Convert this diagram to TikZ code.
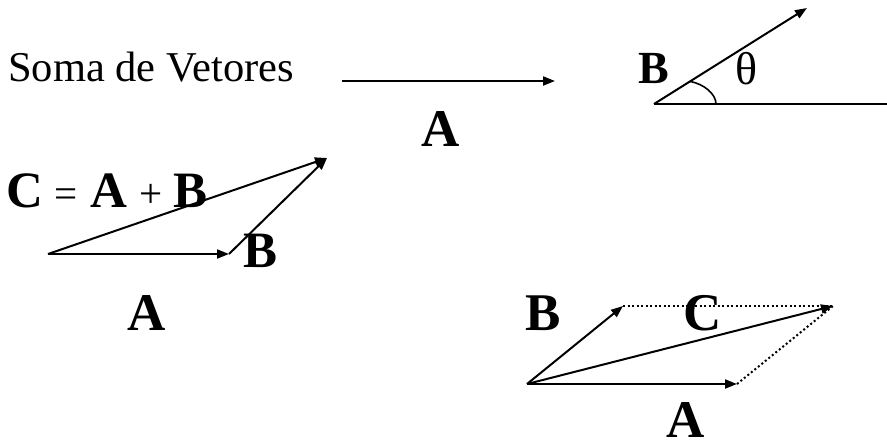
\documentclass[tikz,border=0pt]{standalone}
\usepackage{fontspec}
\setmainfont{Liberation Serif}
\usetikzlibrary{arrows.meta}
\begin{document}
\begin{tikzpicture}[x=1pt,y=-1pt,
  vec/.style={line width=2pt,-{Triangle[length=12pt,width=9pt]}},
  plainline/.style={line width=2pt},
  dotline/.style={line width=2pt,dash pattern=on 2pt off 2.5pt},
  lbl/.style={inner sep=0pt,anchor=base,font=\fontsize{51}{51}\selectfont\bfseries},
  lblbig/.style={inner sep=0pt,anchor=base,font=\fontsize{53}{53}\selectfont\bfseries},
  lblsmall/.style={inner sep=0pt,anchor=base,font=\fontsize{46}{46}\selectfont\bfseries},
  opsym/.style={inner sep=0pt,anchor=base,font=\fontsize{41}{41}\selectfont},
  txt/.style={inner sep=0pt,anchor=base west,font=\fontsize{42.5}{42.5}\selectfont}]
\useasboundingbox (0,0) rectangle (887,442);

% title and first vector A
\node[txt] (title) at (8,81) {Soma de Vetores};
\coordinate (a1s) at (342,81);
\coordinate (a1e) at (555,81);
\draw[vec] (a1s) -- (a1e);
\node[lblbig] (a1l) at (441,146) {A};

% vector B with angle theta
\coordinate (o1) at (654,104);
\coordinate (h1) at (887,104);
\coordinate (b1) at (807,8);
\coordinate (arcs) at (690,81.4);
\coordinate (arce) at (716,104);
\draw[plainline] (o1) -- (h1);
\draw[vec] (o1) -- (b1);
\draw[line width=1.6pt] (arcs) .. controls (704,84) and (716,94) .. (arce);
\node[lblsmall] (b1l) at (654,83) {B};
\node[inner sep=0pt,anchor=base,font=\fontsize{46}{46}\selectfont] (th) at (747,84) {θ};

% triangle rule
\coordinate (o2) at (48,254);
\coordinate (a2) at (229,254);
\coordinate (c2) at (327,158);
\draw[vec] (o2) -- (a2);
\draw[vec] (a2) -- (c2);
\draw[vec] (o2) -- (c2);
\node[lbl] (eqc) at (25,207) {C};
\node[opsym] (eqeq) at (66.5,207) {=};
\node[lbl] (eqa) at (108.5,207) {A};
\node[opsym] (eqplus) at (151,207) {+};
\node[lbl] (eqb) at (191,207) {B};
\node[lbl] (b2l) at (261,267) {B};
\node[lblbig] (a2l) at (147,330) {A};

% parallelogram rule
\coordinate (o3) at (527,384);
\coordinate (a3) at (737,384);
\coordinate (b3) at (623,306);
\coordinate (c3) at (833,306);
\draw[dotline] (b3) -- (c3);
\draw[dotline] (a3) -- (c3);
\draw[vec] (o3) -- (a3);
\draw[vec] (o3) -- (b3);
\draw[vec] (o3) -- (c3);
\node[lblbig] (b3l) at (543,330) {B};
\node[lblbig] (c3l) at (703,330) {C};
\node[lblbig] (a3l) at (686,437) {A};
\end{tikzpicture}
\end{document}
